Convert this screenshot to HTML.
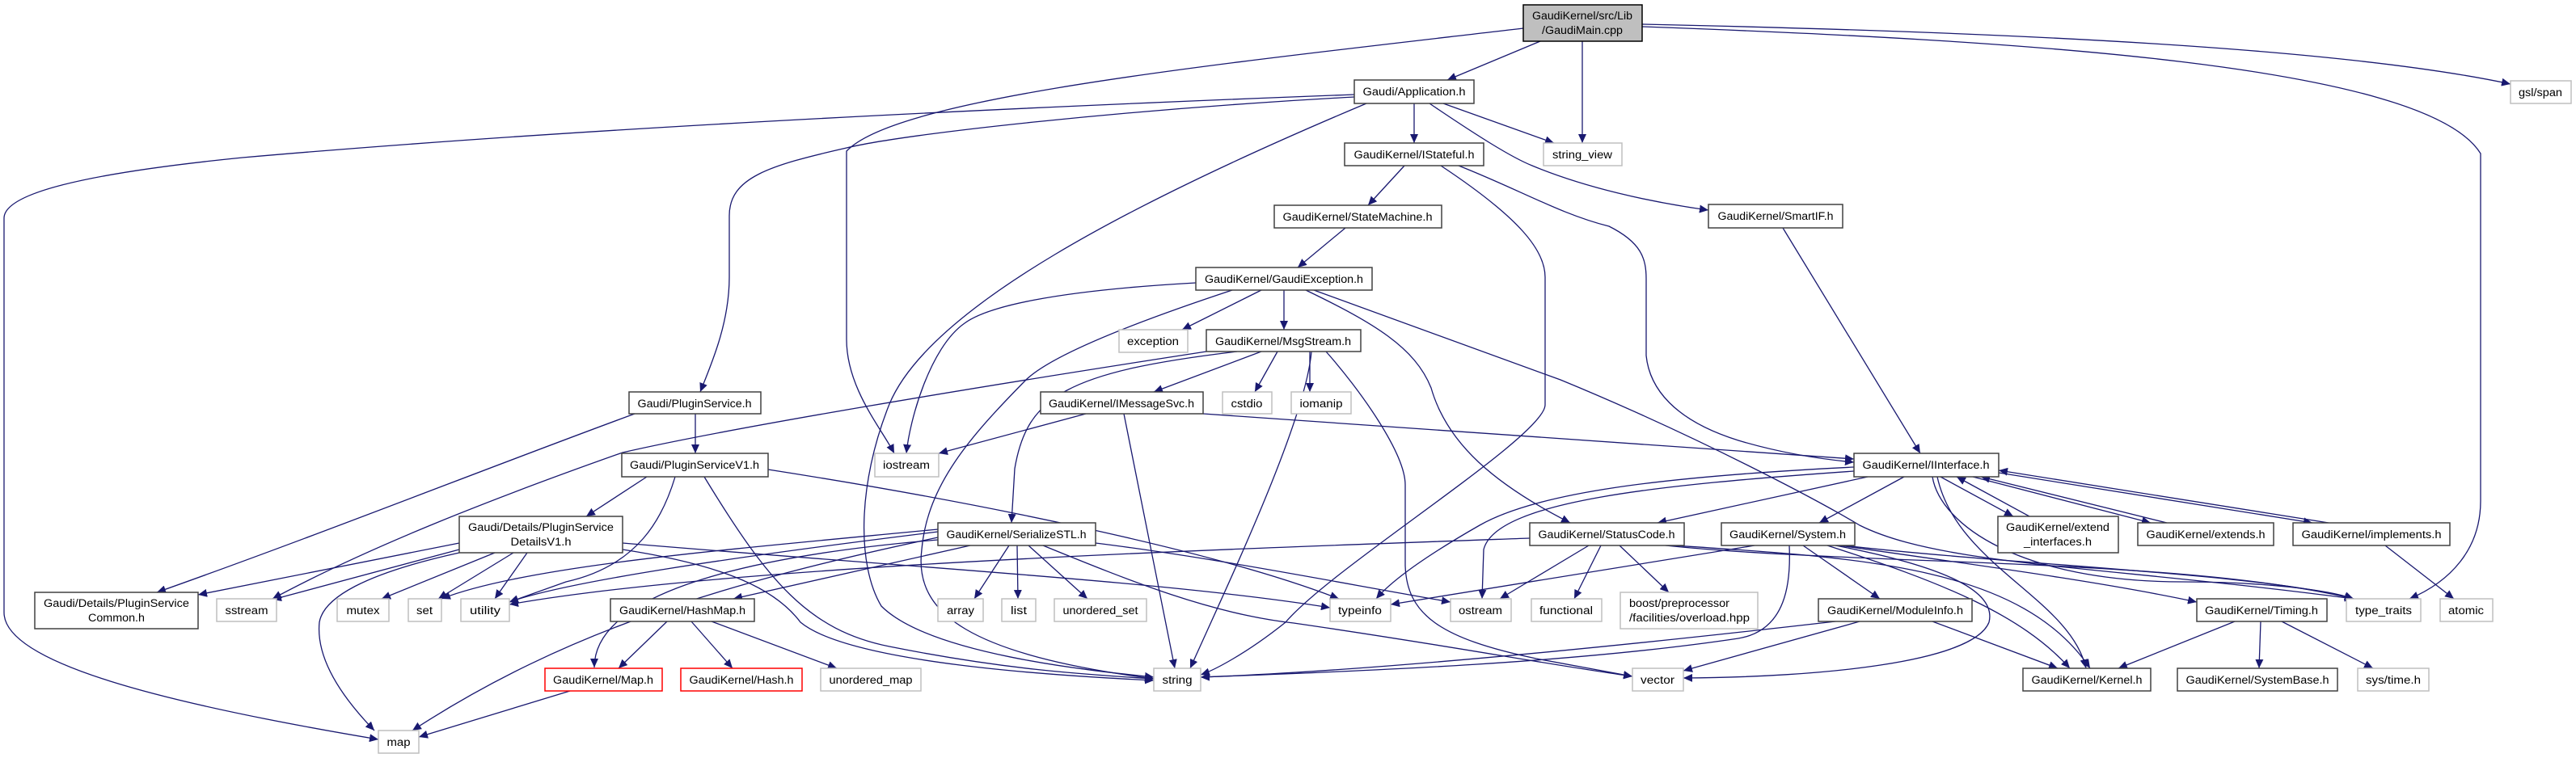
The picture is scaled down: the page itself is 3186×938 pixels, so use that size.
<!DOCTYPE html>
<html><head><meta charset="utf-8"><style>
html,body{margin:0;padding:0;background:#fff;width:3186px;height:938px;overflow:hidden}
svg text{font-family:"Liberation Sans",sans-serif;font-size:13.5px;fill:#000}
.e{fill:none;stroke:#191970;stroke-width:1.3;marker-end:url(#a)}
.n{fill:#fff;stroke:#404040;stroke-width:1.5}
.g{fill:#fff;stroke:#bfbfbf;stroke-width:1.5}
.r{fill:#fff;stroke:#ff0000;stroke-width:1.5}
</style></head><body>
<svg width="3186" height="938" viewBox="0 0 3186 938" xmlns="http://www.w3.org/2000/svg">
<defs><marker id="a" markerUnits="userSpaceOnUse" markerWidth="12" markerHeight="10" refX="11" refY="5" orient="auto"><path d="M0,0 L11,5 L0,10 z" fill="#191970"/></marker></defs>
<g>
<!-- GaudiMain -->
<path class="e" d="M1905,51 L1790,99"/>
<path class="e" d="M1957,51 L1957,177"/>
<path class="e" d="M1884,35 C1500,80 1110,120 1047,187 L1047,420 C1047,480 1090,530 1106,561"/>
<path class="e" d="M2031,30 C2500,40 2900,60 3105,104"/>
<path class="e" d="M2031,33 C2500,50 3000,80 3068,190 L3068,620 C3068,680 3030,720 2980,741"/>
<!-- Application -->
<path class="e" d="M1675,117 C1200,135 700,160 300,195 C100,215 5,240 5,270 L5,758 C5,820 200,870 468,915"/>
<path class="e" d="M1675,120 C1400,135 1120,165 1047,183 C950,205 902,220 902,267 L902,343 C902,400 880,450 866,485"/>
<path class="e" d="M1690,128 C1400,250 1150,380 1100,500 C1060,600 1060,700 1090,750 C1150,810 1350,830 1427,838"/>
<path class="e" d="M1749,128 L1749,177"/>
<path class="e" d="M1785,128 L1922,177"/>
<path class="e" d="M1768,128 C1830,170 1870,195 1895,205 C1960,232 2040,250 2113,260"/>
<!-- IStateful -->
<path class="e" d="M1737,205 L1692,254"/>
<path class="e" d="M1782,205 C1880,270 1911,310 1911,343 L1911,501 C1911,540 1650,700 1590,770 C1540,810 1500,830 1485,835"/>
<path class="e" d="M1804,205 C1880,235 1930,265 1990,280 C2030,300 2036,320 2036,345 L2036,440 C2040,480 2070,520 2150,545 C2200,560 2250,568 2293,572"/>
<path class="e" d="M2205,282 L2375,561"/>
<path class="e" d="M1664,282 L1605,331"/>
<!-- GaudiException -->
<path class="e" d="M1560,359 L1462,408"/>
<path class="e" d="M1588,359 L1588,408"/>
<path class="e" d="M1479,350 C1300,360 1220,380 1193,400 C1150,430 1125,520 1121,561"/>
<path class="e" d="M1524,359 C1400,400 1300,440 1269,470 C1200,540 1147,600 1140,680 C1130,760 1200,810 1427,840"/>
<path class="e" d="M1615,359 C1700,400 1750,430 1770,480 C1790,550 1850,600 1942,647"/>
<path class="e" d="M1625,359 L1930,470 C2100,540 2250,620 2300,650 C2400,700 2600,700 2911,741"/>
<!-- MsgStream -->
<path class="e" d="M1560,435 L1427,485"/>
<path class="e" d="M1580,435 L1552,485"/>
<path class="e" d="M1620,435 L1620,485"/>
<path class="e" d="M1622,435 C1615,520 1520,720 1472,827"/>
<path class="e" d="M1640,435 C1680,480 1738,560 1738,600 L1738,700 C1740,760 1780,790 1900,815 L2019,837"/>
<path class="e" d="M1530,435 C1320,460 1270,490 1255,580 L1251,647"/>
<path class="e" d="M1492,435 C1200,480 900,530 770,560 C600,620 450,680 337,741"/>
<!-- IMessageSvc -->
<path class="e" d="M1343,512 L1161,561"/>
<path class="e" d="M1390,512 L1453,827"/>
<path class="e" d="M1488,512 L2293,568"/>
<!-- PluginService -->
<path class="e" d="M860,512 L860,561"/>
<path class="e" d="M785,512 C600,580 400,660 194,733"/>
<!-- PluginServiceV1 -->
<path class="e" d="M800,590 L725,639"/>
<path class="e" d="M835,590 C820,640 790,700 700,720 L630,745"/>
<path class="e" d="M871,590 C950,720 1000,780 1100,800 C1250,830 1350,835 1427,840"/>
<path class="e" d="M950,581 C1200,620 1500,680 1656,741"/>
<!-- DetailsV1 -->
<path class="e" d="M568,672 L245,736"/>
<path class="e" d="M568,680 L337,742"/>
<path class="e" d="M568,684 C450,710 400,740 395,770 C390,820 430,870 463,904"/>
<path class="e" d="M612,684 L472,741"/>
<path class="e" d="M635,684 L542,741"/>
<path class="e" d="M652,684 L612,741"/>
<path class="e" d="M770,672 C1100,700 1450,720 1645,752"/>
<path class="e" d="M770,680 C900,700 960,730 990,770 C1050,820 1300,836 1427,842"/>
<!-- SerializeSTL -->
<path class="e" d="M1248,675 L1205,741"/>
<path class="e" d="M1258,675 L1259,741"/>
<path class="e" d="M1272,675 L1345,741"/>
<path class="e" d="M1200,675 L907,741"/>
<path class="e" d="M1355,672 C1500,690 1650,720 1794,745"/>
<path class="e" d="M1290,675 C1400,720 1500,760 1600,771 C1800,800 1900,820 2019,837"/>
<path class="e" d="M1160,665 C900,720 700,780 510,904"/>
<path class="e" d="M1160,668 C900,690 735,740 735,826"/>
<path class="e" d="M1160,658 C900,690 700,720 630,745"/>
<path class="e" d="M1160,655 C900,680 650,700 546,741"/>
<!-- HashMap -->
<path class="e" d="M825,769 L765,827"/>
<path class="e" d="M855,769 L906,827"/>
<path class="e" d="M880,769 L1035,827"/>
<path class="e" d="M705,855 L518,912"/>
<!-- IInterface -->
<path class="e" d="M2310,590 L2050,647"/>
<path class="e" d="M2355,590 L2250,647"/>
<path class="e" d="M2400,590 L2490,639"/>
<path class="e" d="M2510,639 L2420,590"/>
<path class="e" d="M2440,590 L2660,647"/>
<path class="e" d="M2680,647 L2450,590"/>
<path class="e" d="M2472,585 L2860,647"/>
<path class="e" d="M2880,647 L2472,582"/>
<path class="e" d="M2293,578 C2050,590 1900,610 1830,650 C1760,690 1720,720 1702,741"/>
<path class="e" d="M2293,583 C2050,600 1850,620 1835,680 L1833,741"/>
<path class="e" d="M2390,590 C2400,650 2500,720 2700,720 C2800,720 2880,730 2911,741"/>
<path class="e" d="M2396,590 C2420,700 2560,740 2580,827"/>
<!-- StatusCode -->
<path class="e" d="M1965,675 L1855,741"/>
<path class="e" d="M1980,675 L1947,741"/>
<path class="e" d="M2003,675 L2064,733"/>
<path class="e" d="M1892,666 C1500,680 900,700 630,748"/>
<path class="e" d="M2060,675 C2300,700 2700,690 2911,741"/>
<path class="e" d="M2070,675 C2300,690 2500,700 2585,827"/>
<!-- System -->
<path class="e" d="M2230,675 L2325,741"/>
<path class="e" d="M2170,675 L1720,748"/>
<path class="e" d="M2213,675 C2215,720 2210,780 2150,790 C1950,820 1700,830 1485,838"/>
<path class="e" d="M2270,675 C2400,700 2470,730 2460,770 C2440,820 2250,838 2082,839"/>
<path class="e" d="M2260,675 C2400,720 2500,760 2560,827"/>
<path class="e" d="M2280,675 C2500,700 2800,710 2911,741"/>
<path class="e" d="M2275,675 C2450,700 2600,720 2717,745"/>
<!-- ModuleInfo -->
<path class="e" d="M2300,769 L2082,830"/>
<path class="e" d="M2270,769 C2000,800 1700,830 1485,838"/>
<path class="e" d="M2390,769 L2545,827"/>
<!-- Timing -->
<path class="e" d="M2764,769 L2620,827"/>
<path class="e" d="M2796,769 L2794,827"/>
<path class="e" d="M2822,769 L2935,827"/>
<path class="e" d="M2950,675 L3035,741"/>
</g>
<g>
<rect x="1884" y="6" width="147" height="45" fill="#bfbfbf" stroke="#000" stroke-width="1.5"/>
<text x="1957" y="24" text-anchor="middle" textLength="124" lengthAdjust="spacingAndGlyphs">GaudiKernel/src/Lib</text>
<text x="1957" y="42" text-anchor="middle" textLength="100" lengthAdjust="spacingAndGlyphs">/GaudiMain.cpp</text>

<rect class="n" x="1675" y="99" width="148" height="29"/><text x="1749" y="118" text-anchor="middle" textLength="127" lengthAdjust="spacingAndGlyphs">Gaudi/Application.h</text>
<rect class="n" x="1663" y="177" width="172" height="28"/><text x="1749" y="196" text-anchor="middle" textLength="149" lengthAdjust="spacingAndGlyphs">GaudiKernel/IStateful.h</text>
<rect class="g" x="1909" y="177" width="97" height="28"/><text x="1957" y="196" text-anchor="middle" textLength="74" lengthAdjust="spacingAndGlyphs">string_view</text>
<rect class="n" x="1576" y="254" width="207" height="28"/><text x="1679" y="273" text-anchor="middle" textLength="185" lengthAdjust="spacingAndGlyphs">GaudiKernel/StateMachine.h</text>
<rect class="n" x="2113" y="253" width="166" height="29"/><text x="2196" y="272" text-anchor="middle" textLength="143" lengthAdjust="spacingAndGlyphs">GaudiKernel/SmartIF.h</text>
<rect class="n" x="1479" y="331" width="218" height="28"/><text x="1588" y="350" text-anchor="middle" textLength="196" lengthAdjust="spacingAndGlyphs">GaudiKernel/GaudiException.h</text>
<rect class="g" x="1384" y="408" width="85" height="28"/><text x="1426" y="427" text-anchor="middle" textLength="64" lengthAdjust="spacingAndGlyphs">exception</text>
<rect class="n" x="1492" y="408" width="191" height="27"/><text x="1587" y="427" text-anchor="middle" textLength="168" lengthAdjust="spacingAndGlyphs">GaudiKernel/MsgStream.h</text>
<rect class="g" x="3105" y="100" width="75" height="28"/><text x="3142" y="119" text-anchor="middle" textLength="54" lengthAdjust="spacingAndGlyphs">gsl/span</text>
<rect class="n" x="778" y="485" width="163" height="27"/><text x="859" y="504" text-anchor="middle" textLength="141" lengthAdjust="spacingAndGlyphs">Gaudi/PluginService.h</text>
<rect class="n" x="1287" y="485" width="201" height="27"/><text x="1387" y="504" text-anchor="middle" textLength="180" lengthAdjust="spacingAndGlyphs">GaudiKernel/IMessageSvc.h</text>
<rect class="g" x="1512" y="485" width="61" height="27"/><text x="1542" y="504" text-anchor="middle" textLength="39" lengthAdjust="spacingAndGlyphs">cstdio</text>
<rect class="g" x="1597" y="485" width="74" height="27"/><text x="1634" y="504" text-anchor="middle" textLength="53" lengthAdjust="spacingAndGlyphs">iomanip</text>
<rect class="g" x="1082" y="561" width="79" height="29"/><text x="1121" y="580" text-anchor="middle" textLength="58" lengthAdjust="spacingAndGlyphs">iostream</text>
<rect class="n" x="769" y="561" width="181" height="29"/><text x="859" y="580" text-anchor="middle" textLength="160" lengthAdjust="spacingAndGlyphs">Gaudi/PluginServiceV1.h</text>
<rect class="n" x="2293" y="561" width="179" height="29"/><text x="2382" y="580" text-anchor="middle" textLength="157" lengthAdjust="spacingAndGlyphs">GaudiKernel/IInterface.h</text>
<rect class="n" x="568" y="639" width="202" height="45"/><text x="669" y="657" text-anchor="middle" textLength="180" lengthAdjust="spacingAndGlyphs">Gaudi/Details/PluginService</text><text x="669" y="675" text-anchor="middle" textLength="75" lengthAdjust="spacingAndGlyphs">DetailsV1.h</text>
<rect class="n" x="2471" y="639" width="149" height="45"/><text x="2545" y="657" text-anchor="middle" textLength="128" lengthAdjust="spacingAndGlyphs">GaudiKernel/extend</text><text x="2545" y="675" text-anchor="middle" textLength="84" lengthAdjust="spacingAndGlyphs">_interfaces.h</text>
<rect class="n" x="1160" y="647" width="195" height="28"/><text x="1257" y="666" text-anchor="middle" textLength="173" lengthAdjust="spacingAndGlyphs">GaudiKernel/SerializeSTL.h</text>
<rect class="n" x="1892" y="647" width="191" height="28"/><text x="1987" y="666" text-anchor="middle" textLength="169" lengthAdjust="spacingAndGlyphs">GaudiKernel/StatusCode.h</text>
<rect class="n" x="2129" y="647" width="165" height="28"/><text x="2211" y="666" text-anchor="middle" textLength="144" lengthAdjust="spacingAndGlyphs">GaudiKernel/System.h</text>
<rect class="n" x="2644" y="647" width="168" height="28"/><text x="2728" y="666" text-anchor="middle" textLength="147" lengthAdjust="spacingAndGlyphs">GaudiKernel/extends.h</text>
<rect class="n" x="2836" y="647" width="194" height="28"/><text x="2933" y="666" text-anchor="middle" textLength="173" lengthAdjust="spacingAndGlyphs">GaudiKernel/implements.h</text>
<rect class="n" x="43" y="733" width="202" height="45"/><text x="144" y="751" text-anchor="middle" textLength="180" lengthAdjust="spacingAndGlyphs">Gaudi/Details/PluginService</text><text x="144" y="769" text-anchor="middle" textLength="70" lengthAdjust="spacingAndGlyphs">Common.h</text>
<rect class="g" x="268" y="741" width="74" height="28"/><text x="305" y="760" text-anchor="middle" textLength="53" lengthAdjust="spacingAndGlyphs">sstream</text>
<rect class="g" x="417" y="741" width="64" height="28"/><text x="449" y="760" text-anchor="middle" textLength="41" lengthAdjust="spacingAndGlyphs">mutex</text>
<rect class="g" x="505" y="741" width="41" height="28"/><text x="525" y="760" text-anchor="middle" textLength="20" lengthAdjust="spacingAndGlyphs">set</text>
<rect class="g" x="570" y="741" width="60" height="28"/><text x="600" y="760" text-anchor="middle" textLength="38" lengthAdjust="spacingAndGlyphs">utility</text>
<rect class="n" x="755" y="741" width="178" height="28"/><text x="844" y="760" text-anchor="middle" textLength="156" lengthAdjust="spacingAndGlyphs">GaudiKernel/HashMap.h</text>
<rect class="g" x="1160" y="741" width="56" height="28"/><text x="1188" y="760" text-anchor="middle" textLength="34" lengthAdjust="spacingAndGlyphs">array</text>
<rect class="g" x="1239" y="741" width="42" height="28"/><text x="1260" y="760" text-anchor="middle" textLength="20" lengthAdjust="spacingAndGlyphs">list</text>
<rect class="g" x="1304" y="741" width="114" height="28"/><text x="1361" y="760" text-anchor="middle" textLength="93" lengthAdjust="spacingAndGlyphs">unordered_set</text>
<rect class="g" x="1645" y="741" width="75" height="28"/><text x="1682" y="760" text-anchor="middle" textLength="54" lengthAdjust="spacingAndGlyphs">typeinfo</text>
<rect class="g" x="1794" y="741" width="75" height="28"/><text x="1831" y="760" text-anchor="middle" textLength="54" lengthAdjust="spacingAndGlyphs">ostream</text>
<rect class="g" x="1894" y="741" width="87" height="28"/><text x="1937" y="760" text-anchor="middle" textLength="66" lengthAdjust="spacingAndGlyphs">functional</text>
<rect class="g" x="2004" y="733" width="170" height="45"/><text x="2015" y="751" textLength="124" lengthAdjust="spacingAndGlyphs">boost/preprocessor</text><text x="2015" y="769" textLength="149" lengthAdjust="spacingAndGlyphs">/facilities/overload.hpp</text>
<rect class="n" x="2249" y="741" width="190" height="28"/><text x="2344" y="760" text-anchor="middle" textLength="168" lengthAdjust="spacingAndGlyphs">GaudiKernel/ModuleInfo.h</text>
<rect class="n" x="2717" y="741" width="161" height="28"/><text x="2797" y="760" text-anchor="middle" textLength="140" lengthAdjust="spacingAndGlyphs">GaudiKernel/Timing.h</text>
<rect class="g" x="2902" y="741" width="92" height="28"/><text x="2948" y="760" text-anchor="middle" textLength="70" lengthAdjust="spacingAndGlyphs">type_traits</text>
<rect class="g" x="3018" y="741" width="65" height="28"/><text x="3050" y="760" text-anchor="middle" textLength="44" lengthAdjust="spacingAndGlyphs">atomic</text>
<rect class="r" x="674" y="827" width="145" height="28"/><text x="746" y="846" text-anchor="middle" textLength="124" lengthAdjust="spacingAndGlyphs">GaudiKernel/Map.h</text>
<rect class="r" x="842" y="827" width="150" height="28"/><text x="917" y="846" text-anchor="middle" textLength="129" lengthAdjust="spacingAndGlyphs">GaudiKernel/Hash.h</text>
<rect class="g" x="1015" y="827" width="124" height="28"/><text x="1077" y="846" text-anchor="middle" textLength="103" lengthAdjust="spacingAndGlyphs">unordered_map</text>
<rect class="g" x="1427" y="827" width="58" height="28"/><text x="1456" y="846" text-anchor="middle" textLength="37" lengthAdjust="spacingAndGlyphs">string</text>
<rect class="g" x="2019" y="827" width="63" height="28"/><text x="2050" y="846" text-anchor="middle" textLength="42" lengthAdjust="spacingAndGlyphs">vector</text>
<rect class="n" x="2502" y="827" width="158" height="28"/><text x="2581" y="846" text-anchor="middle" textLength="137" lengthAdjust="spacingAndGlyphs">GaudiKernel/Kernel.h</text>
<rect class="n" x="2693" y="827" width="198" height="28"/><text x="2792" y="846" text-anchor="middle" textLength="177" lengthAdjust="spacingAndGlyphs">GaudiKernel/SystemBase.h</text>
<rect class="g" x="2916" y="827" width="88" height="28"/><text x="2960" y="846" text-anchor="middle" textLength="68" lengthAdjust="spacingAndGlyphs">sys/time.h</text>
<rect class="g" x="468" y="904" width="50" height="28"/><text x="493" y="923" text-anchor="middle" textLength="29" lengthAdjust="spacingAndGlyphs">map</text>
</g>
</svg>
</body></html>
